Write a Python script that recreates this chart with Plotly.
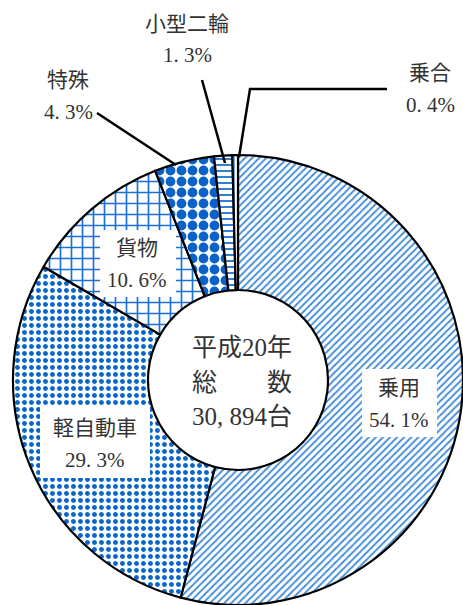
import plotly.graph_objects as go

# ---- data ----
labels = ["乗用", "軽自動車", "貨物", "特殊", "小型二輪", "乗合"]
values = [54.1, 29.3, 10.6, 4.3, 1.3, 0.4]
center_lines = ["平成20年", "総　　数", "30, 894台"]

# ---- styles ----
W, H = 463, 605
patterns = ["/", ".", "+", ".", "-", "|"]
pat_colors = ["#3f8ad8", "#0a66cc", "#1a70d4", "#0a62c8", "#1a70d4", "#1a70d4"]
pat_sizes = [5, 7, 11, 11, 6, 4]
pat_solid = [0.35, 0.4, 0.28, 0.62, 0.3, 0.3]
FONT = "Liberation Serif, Noto Sans CJK JP"
TXT = "#333333"


def px(x):
    return x / W


def py(y):
    return 1 - y / H


def pct(v):
    return str(v).replace(".", ". ") + "%"


fig = go.Figure()
fig.add_trace(go.Pie(
    labels=labels,
    values=values,
    hole=0.4,
    sort=False,
    direction="clockwise",
    rotation=0,
    textinfo="none",
    hoverinfo="none",
    showlegend=False,
    domain=dict(x=[px(13), 1.0], y=[0.0, py(155)]),
    marker=dict(
        colors=["white"] * len(values),
        line=dict(color="black", width=2.2),
        pattern=dict(shape=patterns, fgcolor=pat_colors, bgcolor="white",
                     size=pat_sizes, solidity=pat_solid, fillmode="replace"),
    ),
))

annotations = []
shapes = []
# label positions: (center x, first-line y, second-line y, box or None)
label_pos = {
    "乗用": (399, 388, 420, (362, 369, 437, 437)),
    "軽自動車": (95, 428, 460, (40, 407, 150, 478)),
    "貨物": (137, 248, 280, (100, 230, 176, 297)),
    "特殊": (68, 80, 112, None),
    "小型二輪": (187, 24, 55, None),
    "乗合": (430, 73, 105, None),
}
for lab, val in zip(labels, values):
    x, y1, y2, box = label_pos[lab]
    if box:
        shapes.append(dict(type="rect", xref="paper", yref="paper",
                           x0=px(box[0]), y0=py(box[1]), x1=px(box[2]), y1=py(box[3]),
                           fillcolor="white", line=dict(width=0), layer="above"))
    for txt, yy in ((lab, y1), (pct(val), y2)):
        annotations.append(dict(
            x=px(x), y=py(yy), xref="paper", yref="paper",
            text=txt, showarrow=False,
            font=dict(family=FONT, size=21, color=TXT),
            xanchor="center", yanchor="middle",
        ))

for txt, yy in zip(center_lines, (348, 382, 417)):
    annotations.append(dict(
        x=px(242), y=py(yy), xref="paper", yref="paper",
        text=txt, showarrow=False,
        font=dict(family=FONT, size=25, color=TXT),
        xanchor="center", yanchor="middle",
    ))

shapes += [
    dict(type="line", xref="paper", yref="paper",
         x0=px(97), y0=py(113), x1=px(176), y1=py(165),
         line=dict(color="black", width=2.5)),
    dict(type="line", xref="paper", yref="paper",
         x0=px(202), y0=py(80), x1=px(225), y1=py(163),
         line=dict(color="black", width=2.5)),
    dict(type="path", xref="paper", yref="paper",
         path=f"M {px(387)} {py(89)} L {px(250)} {py(89)} L {px(239)} {py(157)}",
         line=dict(color="black", width=2.5)),
]

fig.update_layout(
    width=W, height=H,
    margin=dict(l=0, r=0, t=0, b=0),
    paper_bgcolor="white", plot_bgcolor="white",
    annotations=annotations, shapes=shapes,
)

fig.write_html(
    "out.html",
    config={"displayModeBar": False, "staticPlot": True},
    post_script="document.body.style.margin='0';document.body.style.overflow='hidden';",
)
